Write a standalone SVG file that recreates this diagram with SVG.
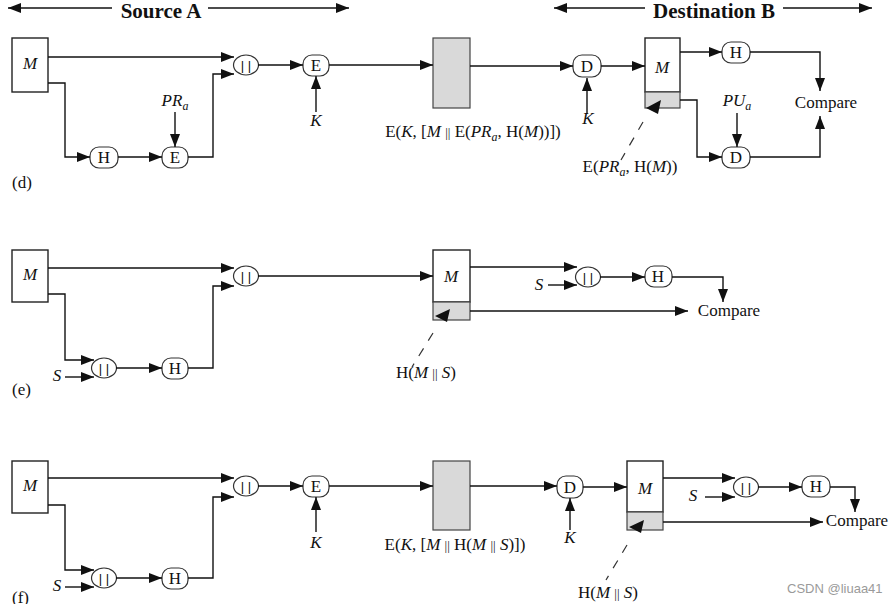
<svg xmlns="http://www.w3.org/2000/svg" width="892" height="604" viewBox="0 0 892 604">
<style>
text{font-family:"Liberation Serif","Times New Roman","DejaVu Serif",serif;fill:#111;}
.hd{font-size:21px;font-weight:bold;text-anchor:middle;}
.lb{font-size:17px;text-anchor:middle;}
.it{font-style:italic;}
.nd{font-size:17px;text-anchor:middle;}
.cc{font-size:13px;text-anchor:middle;font-family:"Liberation Sans",sans-serif;}
.sm{font-size:12px;}
.bar{font-size:13px;}
.box{fill:#fff;stroke:#222;stroke-width:1.4;}
.gray{fill:#d9d9d9;stroke:#444;stroke-width:1.2;}
.node{fill:#fff;stroke:#333;stroke-width:1.2;}
.ln{fill:none;stroke:#111;stroke-width:1.4;marker-end:url(#ah);}
.hl{fill:none;stroke:#111;stroke-width:1.4;}
.dash{fill:none;stroke:#333;stroke-width:1.2;stroke-dasharray:9 9;}
.wm{font-family:"Liberation Sans",sans-serif;font-size:13px;fill:#9a9a9a;}
</style>
<defs>
<marker id="ah" markerUnits="userSpaceOnUse" markerWidth="14" markerHeight="10" refX="13" refY="5" orient="auto">
<path d="M0,0 L13,5 L0,10 z" fill="#111"/>
</marker>
<marker id="ahs" markerUnits="userSpaceOnUse" markerWidth="14" markerHeight="10" refX="0" refY="5" orient="auto">
<path d="M13,0 L0,5 L13,10 z" fill="#111"/>
</marker>
</defs>

<g id="header">
<line x1="8" y1="8" x2="112" y2="8" class="hl" marker-start="url(#ahs)"/>
<line x1="208" y1="8" x2="349" y2="8" class="ln"/>
<text x="161" y="18" class="hd">Source A</text>
<line x1="554" y1="8" x2="645" y2="8" class="hl" marker-start="url(#ahs)"/>
<line x1="783" y1="8" x2="872" y2="8" class="ln"/>
<text x="714" y="18" class="hd">Destination B</text>
</g>

<!-- ===== (d) ===== -->
<g id="d-M"><rect x="12" y="38" width="36" height="54" class="box"/><text x="30" y="69" class="lb it">M</text></g>
<g id="d-H1"><rect x="90" y="147" width="28" height="21" rx="9" class="node"/><text x="104" y="163" class="nd">H</text></g>
<g id="d-E1"><rect x="162" y="147" width="26" height="21" rx="9" class="node"/><text x="175" y="163" class="nd">E</text></g>
<g id="d-PRa"><text x="175" y="106" class="lb it">PR<tspan class="sm" dy="4">a</tspan></text></g>
<g id="d-cat"><ellipse cx="246" cy="65" rx="12.5" ry="10" class="node"/><text x="246" y="70" class="cc">| |</text></g>
<g id="d-E2"><rect x="303" y="55" width="26" height="21" rx="9" class="node"/><text x="316" y="71" class="nd">E</text></g>
<g id="d-K1"><text x="316" y="126" class="lb it">K</text></g>
<g id="d-cipher"><rect x="433" y="38" width="37" height="70" class="gray"/></g>
<g id="d-lab1"><text x="473" y="137" class="lb">E(<tspan class="it">K</tspan>, [<tspan class="it">M</tspan> <tspan class="bar">||</tspan> E(<tspan class="it">PR</tspan><tspan class="sm it" dy="4">a</tspan><tspan dy="-4">, H(</tspan><tspan class="it">M</tspan>))])</text></g>
<g id="d-D1"><rect x="573" y="55" width="28" height="22" rx="9" class="node"/><text x="587" y="72" class="nd">D</text></g>
<g id="d-K2"><text x="588" y="124" class="lb it">K</text></g>
<g id="d-Mb"><rect x="645" y="38" width="35" height="54" class="box"/><rect x="645" y="92" width="35" height="16" class="gray"/><text x="662" y="73" class="lb it">M</text><path d="M646,108 L661,100 L658,114 z" fill="#111"/></g>
<g id="d-lab2"><text x="630" y="172" class="lb">E(<tspan class="it">PR</tspan><tspan class="sm it" dy="4">a</tspan><tspan dy="-4">, H(</tspan><tspan class="it">M</tspan>))</text></g>
<g id="d-H2"><rect x="722" y="42" width="28" height="21" rx="9" class="node"/><text x="736" y="58" class="nd">H</text></g>
<g id="d-PUa"><text x="737" y="106" class="lb it">PU<tspan class="sm" dy="4">a</tspan></text></g>
<g id="d-D2"><rect x="722" y="147" width="28" height="21" rx="9" class="node"/><text x="736" y="163" class="nd">D</text></g>
<g id="d-cmp"><text x="826" y="108" class="lb">Compare</text></g>
<g id="d-tag"><text x="12" y="188" class="lb" style="text-anchor:start">(d)</text></g>

<!-- ===== (e) ===== -->
<g id="e-M"><rect x="12" y="250" width="36" height="52" class="box"/><text x="30" y="280" class="lb it">M</text></g>
<g id="e-cat1"><ellipse cx="104" cy="368" rx="12.5" ry="10" class="node"/><text x="104" y="373" class="cc">| |</text></g>
<g id="e-S1"><text x="57" y="381" class="lb it">S</text></g>
<g id="e-H1"><rect x="162" y="358" width="26" height="21" rx="9" class="node"/><text x="175" y="374" class="nd">H</text></g>
<g id="e-cat2"><ellipse cx="246" cy="276" rx="12.5" ry="10" class="node"/><text x="246" y="281" class="cc">| |</text></g>
<g id="e-Mb"><rect x="433" y="250" width="37" height="52" class="box"/><rect x="433" y="302" width="37" height="18" class="gray"/><text x="451" y="282" class="lb it">M</text><path d="M435,316 L450,309 L447,322 z" fill="#111"/></g>
<g id="e-lab"><text x="426" y="378" class="lb">H(<tspan class="it">M</tspan> <tspan class="bar">||</tspan> <tspan class="it">S</tspan>)</text></g>
<g id="e-S2"><text x="539" y="290" class="lb it">S</text></g>
<g id="e-cat3"><ellipse cx="588" cy="277" rx="12.5" ry="10" class="node"/><text x="588" y="282" class="cc">| |</text></g>
<g id="e-H2"><rect x="645" y="266" width="27" height="21" rx="9" class="node"/><text x="658" y="282" class="nd">H</text></g>
<g id="e-cmp"><text x="729" y="316" class="lb">Compare</text></g>
<g id="e-tag"><text x="12" y="395" class="lb" style="text-anchor:start">(e)</text></g>

<!-- ===== (f) ===== -->
<g id="f-M"><rect x="12" y="461" width="36" height="52" class="box"/><text x="30" y="491" class="lb it">M</text></g>
<g id="f-cat1"><ellipse cx="104" cy="578" rx="12.5" ry="10" class="node"/><text x="104" y="583" class="cc">| |</text></g>
<g id="f-S1"><text x="57" y="591" class="lb it">S</text></g>
<g id="f-H1"><rect x="162" y="568" width="26" height="21" rx="9" class="node"/><text x="175" y="584" class="nd">H</text></g>
<g id="f-cat2"><ellipse cx="246" cy="486" rx="12.5" ry="10" class="node"/><text x="246" y="491" class="cc">| |</text></g>
<g id="f-E"><rect x="303" y="476" width="26" height="21" rx="9" class="node"/><text x="316" y="492" class="nd">E</text></g>
<g id="f-K1"><text x="316" y="548" class="lb it">K</text></g>
<g id="f-cipher"><rect x="433" y="461" width="37" height="69" class="gray"/></g>
<g id="f-lab1"><text x="455" y="550" class="lb">E(<tspan class="it">K</tspan>, [<tspan class="it">M</tspan> <tspan class="bar">||</tspan> H(<tspan class="it">M</tspan> <tspan class="bar">||</tspan> <tspan class="it">S</tspan>)])</text></g>
<g id="f-D"><rect x="557" y="476" width="26" height="22" rx="9" class="node"/><text x="570" y="493" class="nd">D</text></g>
<g id="f-K2"><text x="570" y="543" class="lb it">K</text></g>
<g id="f-Mb"><rect x="627" y="461" width="36" height="51" class="box"/><rect x="627" y="512" width="36" height="18" class="gray"/><text x="645" y="494" class="lb it">M</text><path d="M629,527 L644,520 L641,533 z" fill="#111"/></g>
<g id="f-lab2"><text x="608" y="598" class="lb">H(<tspan class="it">M</tspan> <tspan class="bar">||</tspan> <tspan class="it">S</tspan>)</text></g>
<g id="f-S2"><text x="693" y="501" class="lb it">S</text></g>
<g id="f-cat3"><ellipse cx="746" cy="487" rx="12.5" ry="10" class="node"/><text x="746" y="492" class="cc">| |</text></g>
<g id="f-H2"><rect x="802" y="476" width="28" height="21" rx="9" class="node"/><text x="816" y="492" class="nd">H</text></g>
<g id="f-cmp"><text x="857" y="526" class="lb">Compare</text></g>
<g id="f-tag"><text x="12" y="603" class="lb" style="text-anchor:start">(f)</text></g>

<g id="connectors">
<!-- d -->
<path d="M48,57 H234" class="ln"/>
<path d="M48,83 H65 V157 H90" class="ln"/>
<path d="M118,157 H162" class="ln"/>
<path d="M175,112 V147" class="ln"/>
<path d="M188,157 H213 V74 H234" class="ln"/>
<path d="M258,65 H303" class="ln"/>
<path d="M316,112 V76" class="ln"/>
<path d="M329,65 H433" class="ln"/>
<path d="M470,66 H573" class="ln"/>
<path d="M587,114 V78" class="ln"/>
<path d="M601,66 H645" class="ln"/>
<path d="M680,52 H722" class="ln"/>
<path d="M750,52 H820 V91" class="ln"/>
<path d="M680,100 H697 V157 H722" class="ln"/>
<path d="M737,113 V147" class="ln"/>
<path d="M750,157 H820 V116" class="ln"/>
<path d="M643,122 L621,160" class="dash"/>
<!-- e -->
<path d="M48,268 H234" class="ln"/>
<path d="M48,294 H65 V360 H94" class="ln"/>
<path d="M65,377 H94" class="ln"/>
<path d="M116,368 H162" class="ln"/>
<path d="M188,368 H213 V286 H234" class="ln"/>
<path d="M258,276 H433" class="ln"/>
<path d="M470,267 H577" class="ln"/>
<path d="M548,285 H577" class="ln"/>
<path d="M600,277 H645" class="ln"/>
<path d="M672,277 H723 V302" class="ln"/>
<path d="M470,311 H688" class="ln"/>
<path d="M433,333 L412,367" class="dash"/>
<!-- f -->
<path d="M48,478 H234" class="ln"/>
<path d="M48,505 H65 V570 H94" class="ln"/>
<path d="M65,587 H94" class="ln"/>
<path d="M116,578 H162" class="ln"/>
<path d="M188,578 H213 V497 H234" class="ln"/>
<path d="M258,486 H303" class="ln"/>
<path d="M316,532 V497" class="ln"/>
<path d="M329,486 H433" class="ln"/>
<path d="M470,486 H557" class="ln"/>
<path d="M570,530 V498" class="ln"/>
<path d="M583,487 H627" class="ln"/>
<path d="M663,478 H735" class="ln"/>
<path d="M705,497 H735" class="ln"/>
<path d="M758,487 H802" class="ln"/>
<path d="M830,487 H855 V512" class="ln"/>
<path d="M663,522 H823" class="ln"/>
<path d="M627,545 L606,580" class="dash"/>
</g>

<g id="watermark"><text x="787" y="593" class="wm">CSDN @liuaa41</text></g>
</svg>
